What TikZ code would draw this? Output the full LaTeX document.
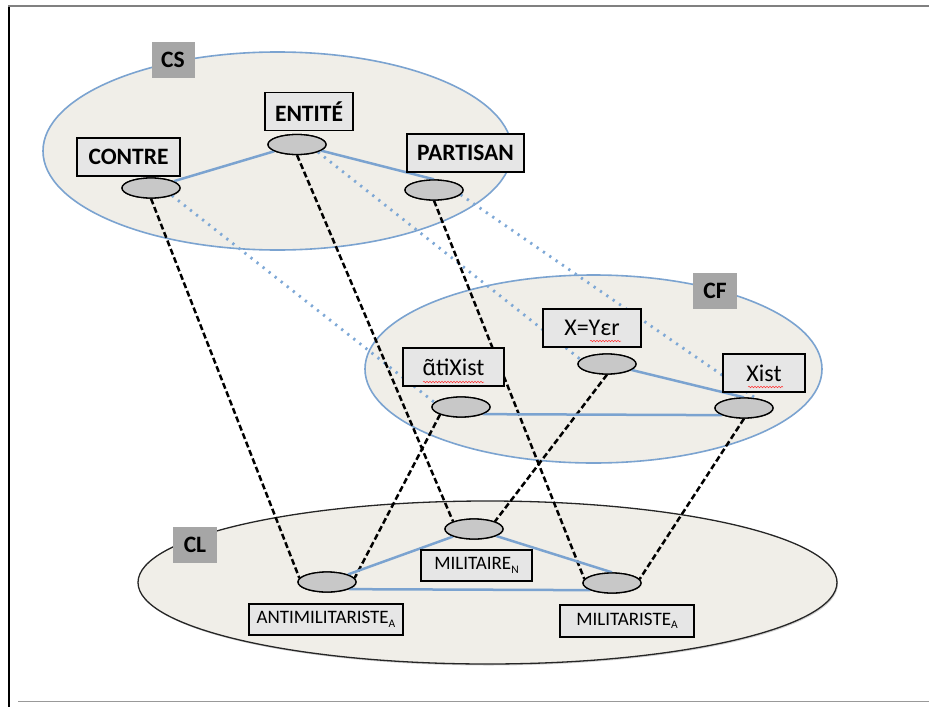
\documentclass[tikz,border=0pt]{standalone}
\usepackage{fontspec}
\setmainfont{Carlito}
\newfontfamily\ipafont{Noto Sans}
\usetikzlibrary{shapes.geometric,decorations.pathmorphing,shadows}
\definecolor{bgfill}{HTML}{F0EEE8}
\definecolor{lblue}{HTML}{7BA3D0}
\definecolor{dotblue}{HTML}{7EA8D6}
\definecolor{ngray}{HTML}{C8C8C8}
\definecolor{boxgray}{HTML}{E6E6E6}
\definecolor{tagray}{HTML}{A6A6A6}
\newcommand\subx[1]{\raisebox{-0.4ex}{\fontsize{11.5}{11.5}\selectfont #1}}
\begin{document}
\begin{tikzpicture}[x=1pt,y=-1pt,
  zone/.style={ellipse, inner sep=0pt, fill=bgfill},
  conc/.style={ellipse, inner sep=0pt, minimum width=58pt, minimum height=20pt,
    fill=ngray, draw=black, line width=1.3pt,
    drop shadow={shadow xshift=0.8pt, shadow yshift=-1pt, opacity=0.25}},
  lab/.style={rectangle, inner sep=0pt, fill=boxgray, draw=black, line width=1.3pt},
  labS/.style={lab, minimum height=38pt, font=\fontsize{23.5}{26}\selectfont\bfseries},
  labF/.style={lab, minimum height=38pt, font=\fontsize{24}{27}\selectfont},
  labL/.style={lab, minimum height=31pt, font=\fontsize{19}{22}\selectfont},
  tag/.style={rectangle, inner sep=0pt, fill=tagray, minimum width=43pt,
    minimum height=36pt, font=\fontsize{23.5}{26}\selectfont\bfseries},
  bline/.style={lblue, line width=2.5pt},
  dline/.style={black, line width=2.5pt, dash pattern=on 6pt off 3pt},
  pline/.style={dotblue, line width=2.8pt, dash pattern=on 2.2pt off 5.5pt},
  squig/.style={red!80!white, line width=0.5pt, decorate,
    decoration={snake, amplitude=0.8pt, segment length=3pt}}
]
\useasboundingbox (0,0) rectangle (929,707);
% frame
\draw[black, line width=1.5pt] (9,5) -- (9,707);
\draw[black!50, line width=2pt] (8,5.5) -- (929,5.5);
\draw[black!40, line width=1pt] (18,701) -- (929,701);

% zones
\node[zone, draw=lblue, line width=1.6pt, minimum width=469pt, minimum height=198pt] (cs) at (277.5,151) {};
\node[zone, draw=lblue, line width=1.6pt, minimum width=457pt, minimum height=188pt] (cf) at (593.5,369) {};
\node[zone, draw=black!85, line width=1.3pt, minimum width=699pt, minimum height=163pt,
  drop shadow={shadow xshift=1pt, shadow yshift=-1.5pt, opacity=0.35}] (cl) at (487.5,582.5) {};

% concept ellipses
\node[conc] (nCo) at (151,188) {};
\node[conc] (nEn) at (297,144.5) {};
\node[conc] (nPa) at (434,190) {};
\node[conc] (nAt) at (461,407) {};
\node[conc] (nXy) at (607,364) {};
\node[conc] (nXi) at (744,408) {};
\node[conc] (nAn) at (327,582) {};
\node[conc] (nMi) at (474,529) {};
\node[conc] (nMs) at (612,583) {};

% dotted links CS -> CF
\draw[pline] (nCo.south east) -- (nAt.170);
\draw[pline] (nEn.south east) -- (nXy.170);
\draw[pline] (nPa.-10) -- (nXi.40);

% dashed links to CL
\draw[dline] (nCo.south) -- (nAn.172);
\draw[dline] (nEn.south) -- (nMi.north west);
\draw[dline] (nPa.south) -- (nMs.172);
\draw[dline] (nAt.south west) -- (nAn.8);
\draw[dline] (nXy.south) -- (nMi.north east);
\draw[dline] (nXi.south) -- (nMs.8);

% blue links inside zones
\draw[bline] (nCo) -- (nEn);
\draw[bline] (nEn) -- (nPa.north);
\draw[bline] (nXy) -- (nXi.north);
\draw[bline] (nAt.-18) -- (nXi.198);
\draw[bline] (nAn) -- (nMi);
\draw[bline] (nMi) -- (nMs.north);
\draw[bline] (nAn.-18) -- (nMs.198);

% concept ellipses on top of the links
\foreach \n in {nCo,nEn,nPa,nAt,nXy,nXi,nAn,nMi,nMs}{
  \path[fill=ngray, draw=black, line width=1.3pt] (\n.center) ellipse [x radius=29pt, y radius=10pt];
}

% labels
\node[labS, minimum width=103pt] (bCo) at (128.5,157) {CONTRE};
\node[labS, minimum width=88pt] (bEn) at (309,111.5) {ENTITÉ};
\node[labS, minimum width=117pt] (bPa) at (465.5,153) {PARTISAN};
\node[labF, minimum width=98pt] (bXy) at (592,328) {X=Yεr};
\node[labF, minimum width=101pt] (bAt) at (453.5,367) {{\ipafont\fontsize{22}{26}\selectfont ɑ̃}tiXist};
\node[labF, minimum width=82pt] (bXi) at (764,373) {Xist};
\node[labL, minimum width=111pt] (bMi) at (476.5,565.5) {MILITAIRE\subx{N}};
\node[labL, minimum width=154pt] (bAn) at (326,619.5) {ANTIMILITARISTE\subx{A}};
\node[labL, minimum width=134pt, minimum height=32pt] (bMs) at (627,621) {MILITARISTE\subx{A}};

% zone tags
\node[tag] (tCS) at (173,60) {CS};
\node[tag, minimum width=44pt] (tCF) at (715,291) {CF};
\node[tag, minimum width=44pt] (tCL) at (195,545) {CL};

% spell-check squiggles
\draw[squig] (590,341) -- (621,341);
\draw[squig] (423,382) -- (484,382);
\draw[squig] (748,387) -- (783,387);
\end{tikzpicture}
\end{document}
